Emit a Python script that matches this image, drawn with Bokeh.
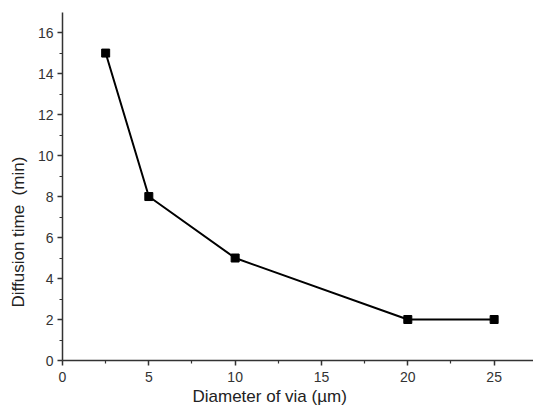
from bokeh.plotting import figure
from bokeh.models import Range1d, Title, FixedTicker
from bokeh.embed import file_html
from bokeh.resources import INLINE

diameter = [2.5, 5, 10, 20, 25]
diffusion_time = [15, 8, 5, 2, 2]
x_ticks = [0, 5, 10, 15, 20, 25]
y_ticks = [0, 2, 4, 6, 8, 10, 12, 14, 16]

W, H = 533, 407
p = figure(width=W, height=H, output_backend="svg", toolbar_location=None,
           x_range=Range1d(0, 27.28), y_range=Range1d(0, 16.98),
           min_border_left=61, min_border_right=0, min_border_top=12, min_border_bottom=47)
p.outline_line_color = None
p.grid.visible = False
p.background_fill_color = "white"

p.line(diameter, diffusion_time, line_color="black", line_width=2)
p.scatter(diameter, diffusion_time, marker="square", size=8, color="black")

for ax in (p.xaxis[0], p.yaxis[0]):
    ax.axis_line_color = "#333333"
    ax.axis_line_width = 1.5
    ax.major_tick_line_color = "#333333"
    ax.minor_tick_line_color = "#333333"
    ax.major_tick_line_width = 1.5
    ax.minor_tick_line_width = 1.2
    ax.major_tick_out = 5
    ax.major_tick_in = 0
    ax.minor_tick_out = 3
    ax.minor_tick_in = 0
    ax.major_label_text_font = "Liberation Sans"
    ax.major_label_text_font_size = "14px"
    ax.major_label_text_color = "#333333"

p.xaxis[0].ticker = FixedTicker(ticks=x_ticks, minor_ticks=[2.5, 7.5, 12.5, 17.5, 22.5])
p.yaxis[0].ticker = FixedTicker(ticks=y_ticks, minor_ticks=[1, 3, 5, 7, 9, 11, 13, 15])
p.xaxis[0].major_label_standoff = 6
p.yaxis[0].major_label_standoff = 4

p.add_layout(Title(text="Diameter of via (µm)", align="left", offset=130, standoff=0,
                   text_font="Liberation Sans", text_font_size="17px",
                   text_font_style="normal", text_color="#222222"), "below")
p.add_layout(Title(text="Diffusion time\u00a0\u00a0(min)", align="left", offset=53, standoff=13,
                   text_font="Liberation Sans", text_font_size="17px",
                   text_font_style="normal", text_color="#222222"), "left")

open("out.html", "w").write(file_html(p, INLINE))
